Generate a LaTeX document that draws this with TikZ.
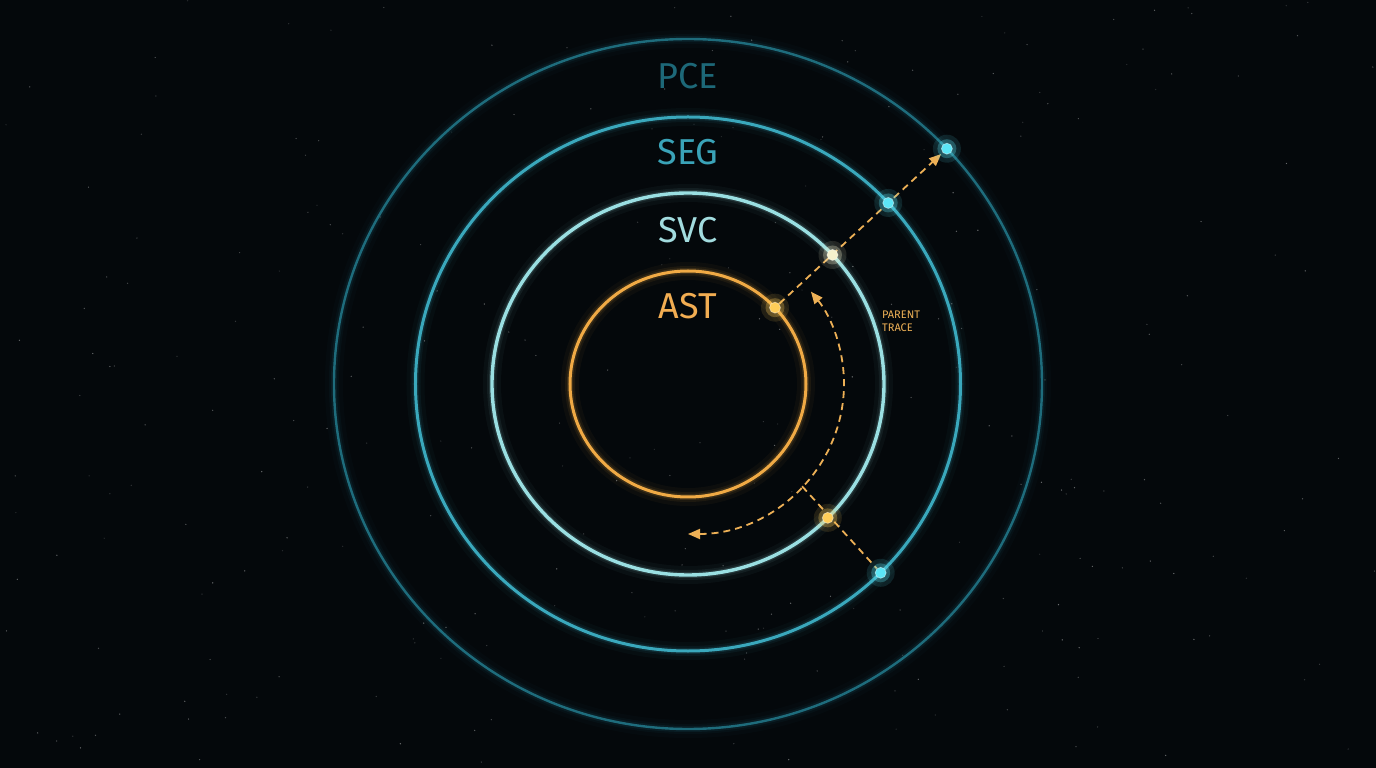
\documentclass[tikz,border=0pt]{standalone}
\usepackage{fontspec}
\setmainfont{Fira Sans}
\usetikzlibrary{arrows.meta}
\usetikzlibrary{calc}
\pgfdeclarelayer{back}
\pgfdeclarelayer{mid}
\pgfsetlayers{back,mid,main}
\definecolor{bgcol}{HTML}{04080B}
\definecolor{pcecol}{HTML}{1E6C7C}
\definecolor{segcol}{HTML}{3AA8BC}
\definecolor{svccol}{HTML}{9ADFE2}
\definecolor{astcol}{HTML}{F0AA45}
\definecolor{tracecol}{HTML}{EDB056}
\definecolor{pcetxt}{HTML}{1D6878}
\definecolor{segtxt}{HTML}{3AA3B8}
\definecolor{svctxt}{HTML}{A2DCDF}
\definecolor{asttxt}{HTML}{F2AD52}
\definecolor{warmdot}{HTML}{FFCD58}
\definecolor{paledot}{HTML}{F4F0CC}
\definecolor{colddot}{HTML}{5CE6F6}

\begin{document}
\begin{tikzpicture}[x=1pt,y=1pt,
    dot/.style={circle,inner sep=0pt,minimum size=11pt,fill=#1,draw=white,draw opacity=.45,line width=.7pt},
    halo/.style={fill=#1,fill opacity=.28},
    trace/.style={draw=tracecol,line width=1.8pt,dash pattern=on 7pt off 5pt},
    tip/.style={-{Triangle[length=12pt,width=10pt]}},
    lbl/.style={font=\fontsize{36}{36}\selectfont,anchor=base}]

\coordinate (O) at (0,0);

\begin{pgfonlayer}{back}
  \fill[bgcol] (-688,-384) rectangle (688,384);
  % stars
  \pgfmathsetseed{42}
  \foreach \i in {1,...,260}{
    \pgfmathsetmacro\sx{rand*688}
    \pgfmathsetmacro\sy{rand*384}
    \pgfmathsetmacro\so{0.12+0.3*rnd}
    \fill[white,opacity=\so] (\sx,\sy) circle (0.7);
  }
  % rings with glow
  \foreach \rx/\ry/\col/\lw in {354/345/pcecol/2.4, 272.5/267/segcol/3, 196/191/svccol/3.4, 118/113/astcol/3}{
    \foreach \w/\o in {18/0.04, 10/0.07, 6/0.14}
      \draw[\col,line width=\w pt,draw opacity=\o] (O) ellipse [x radius=\rx, y radius=\ry];
    \draw[\col,line width=\lw pt] (O) ellipse [x radius=\rx, y radius=\ry];
  }
\end{pgfonlayer}

\node[lbl,pcetxt] (pce) at (0,295) {PCE};
\node[lbl,segtxt] (seg) at (0,219) {SEG};
\node[lbl,svctxt] (svc) at (0,141) {SVC};
\node[lbl,asttxt] (ast) at (0,65) {AST};

\node[anchor=north west,align=left,text=tracecol,inner sep=0pt,
      font=\fontsize{11}{12.5}\selectfont] (note) at (194,73) {PARENT\\TRACE};

% dots on the rings
\foreach \n/\a/\rx/\ry/\col in {astdot/42.5/118/113/warmdot, svcdot/42.5/196/191/paledot,
    segdot/42.7/272.5/267/colddot, pcedot/43/354/345/colddot,
    svclow/-44.5/196/191/warmdot, seglow/-45/272.5/267/colddot}{
  \fill[halo=\col,fill opacity=.12] ($(O)+(\a:\rx pt and \ry pt)$) circle (14);
  \fill[halo=\col] ($(O)+(\a:\rx pt and \ry pt)$) circle (9.5);
  \node[dot=\col] (\n) at ($(O)+(\a:\rx pt and \ry pt)$) {};
}

\coordinate (arcA) at ($(O)+(-90:156pt and 150pt)$);
\coordinate (arcB) at ($(O)+(-43:156pt and 150pt)$);

\begin{pgfonlayer}{mid}
  \draw[trace,tip,shorten >=2pt] (astdot) -- (pcedot);
  \draw[trace,{Triangle[length=12pt,width=10pt]}-{Triangle[length=12pt,width=10pt]}]
    (arcA) arc[start angle=-90, end angle=38, x radius=156, y radius=150];
  \draw[trace] (arcB) -- (seglow);
\end{pgfonlayer}
\end{tikzpicture}
\end{document}
